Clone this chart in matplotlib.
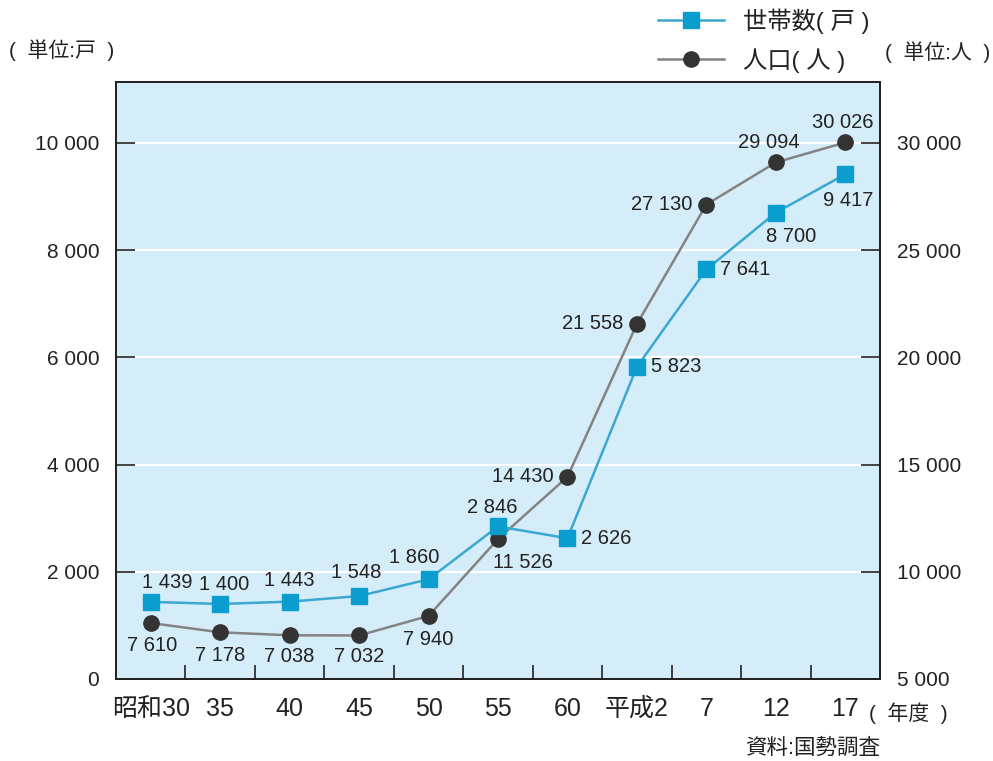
import matplotlib
matplotlib.use("Agg")
import matplotlib.pyplot as plt
from matplotlib.ticker import FixedLocator, NullFormatter

plt.rcParams['font.family'] = ['Liberation Sans', 'Noto Sans CJK JP', 'DejaVu Sans']

years = ["昭和30", "35", "40", "45", "50", "55", "60", "平成2", "7", "12", "17"]
households = [1439, 1400, 1443, 1548, 1860, 2846, 2626, 5823, 7641, 8700, 9417]
population = [7610, 7178, 7038, 7032, 7940, 11526, 14430, 21558, 27130, 29094, 30026]

# label offsets in points (dx, dy) and alignment per point
hh_off = [(12, 14), (3, 14), (0, 15), (-2, 17), (-10, 16), (-4, 14), (10, 0),
          (10, 0), (10, 0), (11, -17), (2, -19)]
hh_ha = ["center"] * 6 + ["left"] * 3 + ["center"] * 2
pop_off = [(1, -16), (0, -17), (0, -15), (0, -15), (0, -17), (18, -17), (-10, 0),
           (-10, 0), (-10, 0), (-5, 14), (-2, 14)]
pop_ha = ["center"] * 6 + ["right"] * 3 + ["center"] * 2

blue = "#0a9dcd"
blue_line = "#3aa8d0"
dark = "#333333"
gray = "#838383"
bg = "#d4edf9"
ink = "#222222"


def fmt(v):
    return f"{v:,}".replace(",", " ")


fig = plt.figure(figsize=(9.93, 7.61), dpi=100)
ax = fig.add_axes([116 / 993, 82 / 761, 764 / 993, 597 / 761])
ax2 = ax.twinx()

x = list(range(len(years)))
ymax = 11138
ax.set_xlim(-0.5, len(years) - 0.5)
ax.set_ylim(0, ymax)
ax2.set_ylim(5000, 5000 + 2.5 * ymax)

# ax2 sits underneath and carries the background and grid
ax2.set_zorder(0)
ax.set_zorder(1)
ax2.set_facecolor(bg)
ax2.patch.set_visible(True)
ax.patch.set_visible(False)
for g in range(2000, 10001, 2000):
    ax2.axhline(5000 + 2.5 * g, color="white", lw=1.6, zorder=1)

ax.plot(x, households, color=blue_line, lw=1.8, marker="s", ms=11.5,
        mfc=blue, mec=blue, zorder=4)
ax2.plot(x, population, color=gray, lw=1.8, marker="o", ms=11,
         mfc=dark, mec=dark, zorder=3)

for i, v in enumerate(households):
    dx, dy = hh_off[i]
    ax.annotate(fmt(v), (i, v), xytext=(dx, dy), textcoords="offset points",
                ha=hh_ha[i], va="center", fontsize=14.5, color=ink, zorder=6)
for i, v in enumerate(population):
    dx, dy = pop_off[i]
    ax2.annotate(fmt(v), (i, v), xytext=(dx, dy), textcoords="offset points",
                 ha=pop_ha[i], va="center", fontsize=14.5, color=ink, zorder=6)

ax.set_yticks(range(0, 10001, 2000))
ax.set_yticklabels([fmt(v) for v in range(0, 10001, 2000)], fontsize=15)
ax2.set_yticks(range(5000, 30001, 5000))
ax2.set_yticklabels([fmt(v) for v in range(5000, 30001, 5000)], fontsize=15)
ax.tick_params(axis="y", direction="in", length=14, width=1.2, pad=12, colors=ink)
ax2.tick_params(axis="y", direction="in", length=14, width=1.2, pad=12, colors=ink)

ax.set_xticks(x)
ax.set_xticklabels(years, fontsize=18)
ax.xaxis.set_minor_locator(FixedLocator([i + 0.5 for i in range(len(years) - 1)]))
ax.xaxis.set_minor_formatter(NullFormatter())
ax.tick_params(axis="x", which="major", length=0, pad=13, colors=ink)
ax.tick_params(axis="x", which="minor", direction="in", length=10, width=1.2, color=ink)

for a in (ax, ax2):
    for s in a.spines.values():
        s.set_color(ink)
        s.set_linewidth(1.3)

fig.text(9 / 993, 1 - 50 / 761, "(  単位:戸  )", fontsize=15, va="center", ha="left", color=ink)
fig.text(885 / 993, 1 - 52 / 761, "(  単位:人  )", fontsize=15, va="center", ha="left", color=ink)
fig.text(869 / 993, 1 - 713 / 761, "(  年度  )", fontsize=15, va="center", ha="left", color=ink)
fig.text(745 / 993, 1 - 748 / 761, "資料:国勢調査", fontsize=15.5, va="center", ha="left", color=ink)

# legend
hh_handle, = ax.plot([], [], color=blue_line, lw=1.8, marker="s", ms=11.5, mfc=blue, mec=blue)
pop_handle, = ax.plot([], [], color=gray, lw=1.8, marker="o", ms=11, mfc=dark, mec=dark)
leg = fig.legend([hh_handle, pop_handle], ["世帯数( 戸 )", "人口( 人 )"],
                 loc="upper left", bbox_to_anchor=(658 / 993, 1 - 8 / 761), frameon=False,
                 fontsize=17.5, handlelength=2.7, labelspacing=0.6, handletextpad=0.8,
                 borderpad=0, borderaxespad=0)
for t in leg.get_texts():
    t.set_color(ink)

fig.savefig("out.png", dpi=100)
